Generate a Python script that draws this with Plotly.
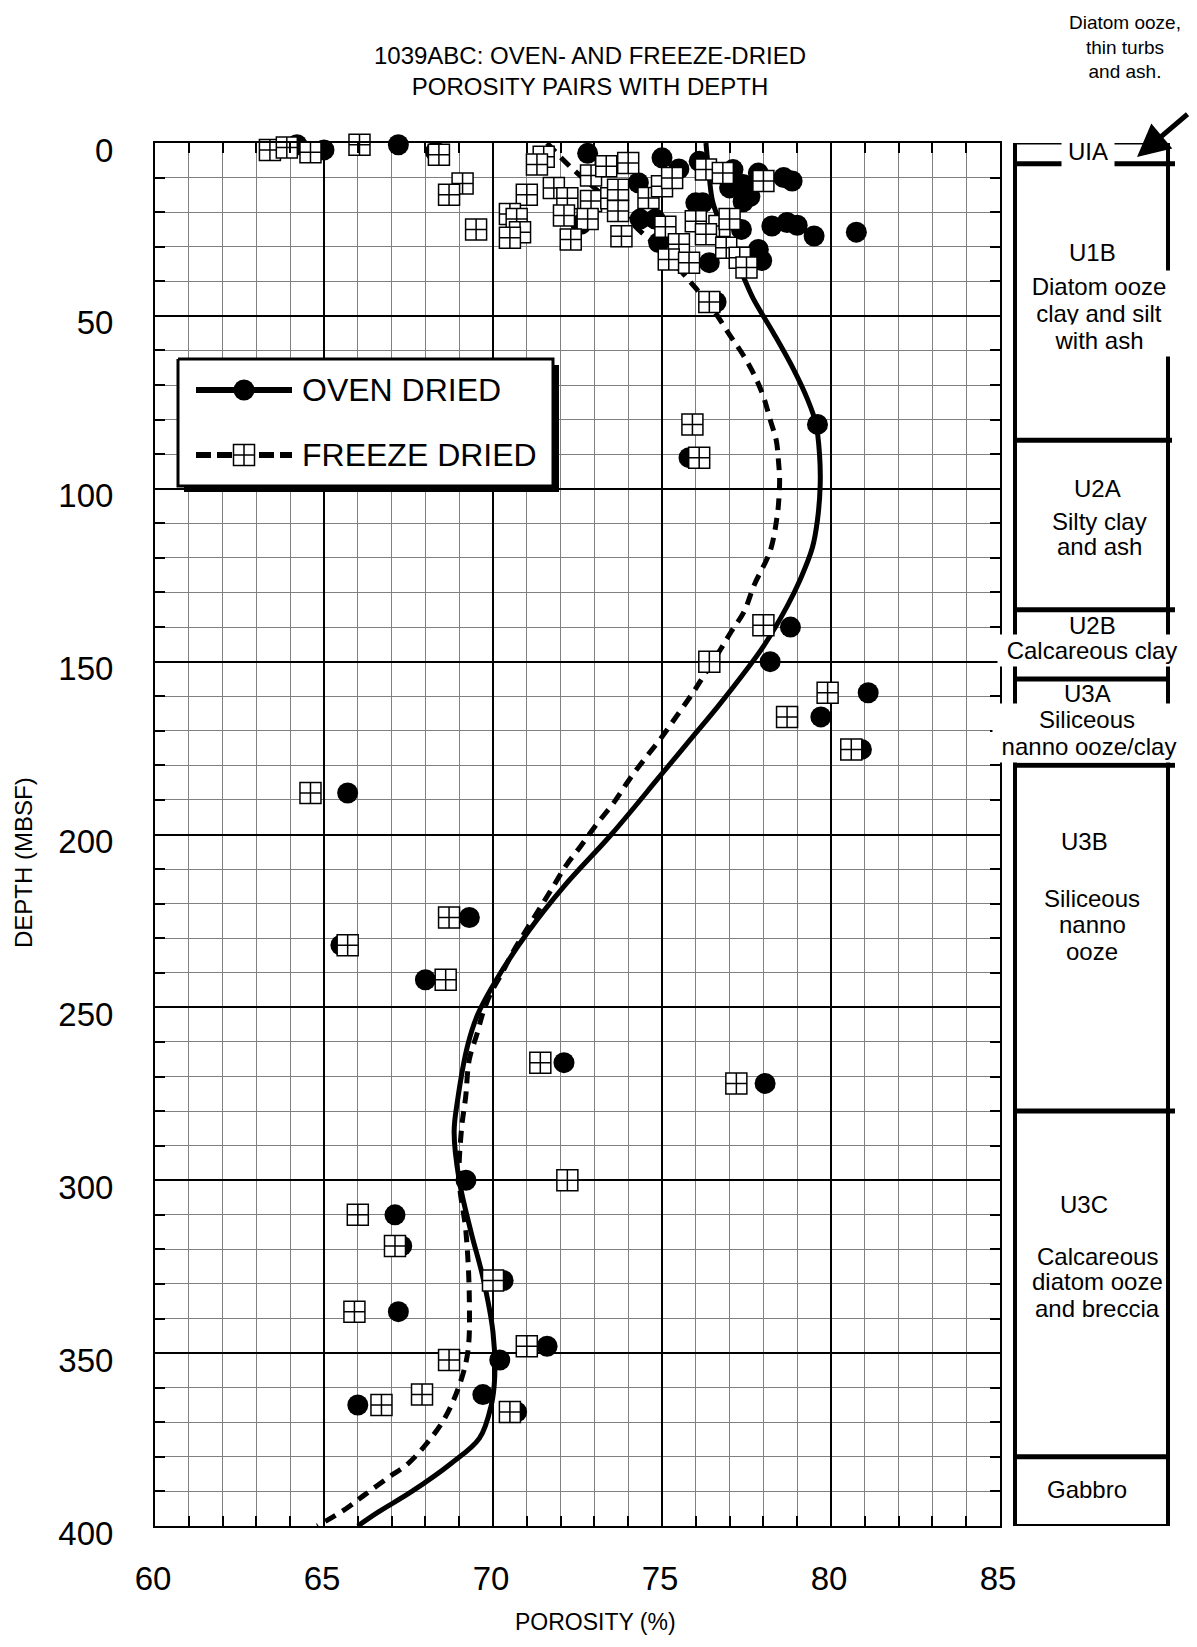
import plotly.graph_objects as go

# ---------------- data ----------------
oven_porosity = [64.2, 65.0, 67.2, 68.3, 72.8, 75.0, 75.5, 76.1, 77.1, 77.85, 78.6, 78.85,
                 77.0, 77.4, 77.6, 77.4, 76.0, 76.2, 74.3, 74.35, 74.8, 72.6, 77.35, 78.25,
                 78.7, 79.0, 79.5, 80.75, 74.9, 77.85, 77.95, 76.4, 76.6,
                 79.6, 75.8, 78.8, 78.2, 81.1, 79.7, 80.9, 65.7, 69.3, 65.5, 68.0, 72.1,
                 78.05, 69.2, 67.1, 67.3, 70.3, 67.2, 71.6, 70.2, 69.7, 66.0, 70.7]
oven_depth = [0.5, 2.0, 0.5, 2.5, 3.0, 4.3, 7.5, 5.3, 7.7, 8.7, 10.0, 11.0,
              13.0, 12.0, 15.5, 17.0, 17.3, 17.3, 11.5, 22.0, 22.0, 23.5, 25.0, 24.0,
              23.0, 23.8, 26.9, 25.8, 28.8, 30.8, 34.0, 34.6, 46.0,
              81.4, 91.0, 140.0, 150.0, 159.0, 166.0, 175.4, 188.0, 224.0, 232.0, 242.0, 266.0,
              272.0, 300.0, 310.0, 319.0, 329.0, 338.0, 348.0, 352.0, 362.0, 365.0, 367.0]

freeze_porosity = [63.4, 63.9, 64.6, 66.05, 68.4, 69.1, 68.7, 69.5, 71.5, 71.3, 71.0, 71.8,
                   70.5, 70.7, 70.8, 70.5, 72.9, 73.35, 74.0, 72.2, 72.9, 73.5, 73.7, 73.7,
                   72.8, 72.1, 72.3, 73.8, 74.6, 75.0, 75.3, 76.3, 76.8, 78.0, 75.1, 76.0,
                   76.7, 77.0, 75.5, 76.3, 76.9, 77.3, 77.5, 75.2, 75.8, 76.4,
                   75.9, 76.1, 78.0, 76.4, 79.9, 78.7, 80.6, 64.6, 68.7, 65.7, 68.6, 71.4,
                   77.2, 72.2, 66.0, 67.1, 70.0, 65.9, 71.0, 68.7, 67.9, 66.7, 70.5]
freeze_depth = [2.0, 1.3, 2.7, 0.5, 3.4, 11.7, 15.0, 25.0, 4.0, 6.2, 15.0, 13.0,
                20.5, 22.0, 25.8, 27.4, 9.4, 6.7, 5.8, 16.0, 16.8, 16.0, 13.5, 19.7,
                22.0, 21.0, 27.9, 27.0, 15.9, 12.5, 10.1, 7.7, 8.7, 11.0, 24.2, 22.6,
                24.0, 22.0, 29.3, 26.4, 30.3, 33.2, 36.0, 33.7, 34.6, 46.0,
                81.4, 91.0, 139.5, 150.0, 159.0, 166.0, 175.4, 188.0, 224.0, 232.0, 242.0, 266.0,
                272.0, 300.0, 310.0, 319.0, 329.0, 338.0, 348.0, 352.0, 362.0, 365.0, 367.0]

oven_curve_porosity = [76.3, 76.4, 76.5, 76.8, 77.1, 77.4, 77.7, 78.3, 78.9, 79.3, 79.55, 79.66,
                       79.68, 79.6, 79.45, 79.1, 78.7, 78.0, 77.45, 76.65, 75.8, 74.95, 73.5,
                       72.1, 71.05, 70.1, 69.55, 69.25, 68.95, 68.85, 69.0, 69.35, 69.7, 70.0,
                       70.05, 69.95, 69.6, 68.75, 67.6, 66.6, 66.0]
oven_curve_depth = [0, 10, 17, 25, 32, 38.5, 45, 55, 65.6, 74, 81, 90,
                    99, 109, 117, 126, 134, 145.6, 153, 163, 173, 183, 200,
                    215, 228, 242, 252, 261, 277, 286, 300, 315, 328, 344,
                    357, 365, 374.6, 382, 390, 396, 400]

freeze_curve_porosity = [71.6, 72.3, 73.0, 73.7, 74.3, 75.0, 75.6, 76.0, 76.5, 77.0, 77.4, 77.75,
                         78.0, 78.2, 78.38, 78.45, 78.48, 78.45, 78.4, 78.2, 77.73, 77.43, 77.05,
                         76.73, 76.23, 75.88, 75.43, 74.98, 74.5, 74.04, 73.58, 73.07, 72.6,
                         72.16, 71.76, 71.36, 70.96, 70.6, 70.27, 69.93, 69.7, 69.53, 69.3,
                         69.19, 69.07, 69.0, 69.2, 69.3, 69.25, 68.96, 68.56, 68.05, 67.48,
                         66.9, 66.2, 65.65, 64.8]
freeze_curve_depth = [0, 7, 13, 19, 25, 31, 37.5, 42, 48, 55.5, 61.3, 67.5,
                      73.3, 80, 86, 92.5, 97.3, 104, 108.4, 118, 127.8, 135.5, 141.3,
                      146.5, 154.2, 159.5, 165.8, 172, 178, 184, 190.7, 197, 203.3,
                      209, 215.4, 221.7, 228, 233.8, 240, 246, 251.7, 257.6, 265,
                      276, 285, 300, 315, 334.5, 350, 360.5, 369, 376, 382,
                      386, 391, 395, 400]

x_tick_values = [60, 65, 70, 75, 80, 85]
y_tick_values = [0, 50, 100, 150, 200, 250, 300, 350, 400]

unit_boundary_depths = [0, 6, 86, 135, 155, 180, 280, 380, 400]
# lithology text, one entry per printed line
litho_lines = ["UIA", "U1B", "Diatom ooze", "clay and silt", "with ash",
               "U2A", "Silty clay", "and ash", "U2B", "Calcareous clay",
               "U3A", "Siliceous", "nanno ooze/clay", "U3B", "Siliceous", "nanno", "ooze",
               "U3C", "Calcareous", "diatom ooze", "and breccia", "Gabbro"]
litho_line_depths = [2.6, 31.7, 41.5, 49.4, 57.0,
                     99.8, 109.5, 116.8, 139.6, 146.9,
                     159.3, 166.6, 174.5, 202.1, 218.5, 226.1, 233.7,
                     306.9, 322.1, 329.4, 337.0, 389.3]

# ---------------- geometry helpers (screen px -> paper) ----------------
OFF = 8                      # page body margin
W, H = 1197 - 2 * OFF, 1647 - 2 * OFF
ML, MT = 147, 135
MB = H - (MT + 1383)
MR = 10
PW, PH = W - ML - MR, H - MT - MB
FONT = "Liberation Sans, Arial, sans-serif"


def fx(sx):
    return (sx - OFF - ML) / PW


def fy(sy):
    return (H - MB - (sy - OFF)) / PH


fig = go.Figure()

# curves
fig.add_trace(go.Scatter(x=oven_curve_porosity, y=oven_curve_depth, mode="lines",
                         line=dict(color="black", width=5, shape="spline", smoothing=1.0),
                         name="OVEN DRIED", showlegend=False, hoverinfo="skip", cliponaxis=False))
fig.add_trace(go.Scatter(x=freeze_curve_porosity, y=freeze_curve_depth, mode="lines",
                         line=dict(color="black", width=5, dash="12px,8px", shape="spline", smoothing=1.0),
                         name="FREEZE DRIED", showlegend=False, hoverinfo="skip", cliponaxis=False))
# points
fig.add_trace(go.Scatter(x=oven_porosity, y=oven_depth, mode="markers",
                         marker=dict(symbol="circle", size=21, color="black"),
                         name="OVEN DRIED", showlegend=False, cliponaxis=False))
fig.add_trace(go.Scatter(x=freeze_porosity, y=freeze_depth, mode="markers",
                         marker=dict(symbol="square-cross", size=21, color="white",
                                     line=dict(color="black", width=1.5)),
                         name="FREEZE DRIED", showlegend=False, cliponaxis=False))

# ---------------- custom legend (screen-pixel overlay axes) ----------------
lx0, ly0, lx1, ly1 = 178, 359, 553, 486
sh = 6
fig.add_trace(go.Scatter(x=[lx0 + sh, lx1 + sh, lx1 + sh, lx0 + sh, lx0 + sh],
                         y=[ly0 + sh, ly0 + sh, ly1 + sh, ly1 + sh, ly0 + sh],
                         fill="toself", fillcolor="black", mode="lines", line=dict(width=0, color="black"),
                         xaxis="x3", yaxis="y3", showlegend=False, hoverinfo="skip"))
fig.add_trace(go.Scatter(x=[lx0, lx1, lx1, lx0, lx0], y=[ly0, ly0, ly1, ly1, ly0],
                         fill="toself", fillcolor="white", mode="lines", line=dict(width=3, color="black"),
                         xaxis="x3", yaxis="y3", showlegend=False, hoverinfo="skip"))
fig.add_trace(go.Scatter(x=[196, 292], y=[390, 390], mode="lines", line=dict(color="black", width=6),
                         xaxis="x3", yaxis="y3", showlegend=False, hoverinfo="skip"))
fig.add_trace(go.Scatter(x=[196, 292], y=[455, 455], mode="lines",
                         line=dict(color="black", width=6, dash="15px,6px"),
                         xaxis="x3", yaxis="y3", showlegend=False, hoverinfo="skip"))
fig.add_trace(go.Scatter(x=[244], y=[390], mode="markers", marker=dict(symbol="circle", size=21, color="black"),
                         xaxis="x3", yaxis="y3", showlegend=False, hoverinfo="skip"))
fig.add_trace(go.Scatter(x=[244], y=[455], mode="markers",
                         marker=dict(symbol="square-cross", size=21, color="white", line=dict(color="black", width=1.5)),
                         xaxis="x3", yaxis="y3", showlegend=False, hoverinfo="skip"))

annotations = [
    dict(text="OVEN DRIED", x=fx(300), y=fy(390), xref="paper", yref="paper", xanchor="left",
         yanchor="middle", showarrow=False, font=dict(size=32, family=FONT, color="black")),
    dict(text="FREEZE DRIED", x=fx(300), y=fy(455), xref="paper", yref="paper", xanchor="left",
         yanchor="middle", showarrow=False, font=dict(size=32, family=FONT, color="black")),
    # axis titles
    dict(text="DEPTH (MBSF)", x=fx(23), y=fy(863), xref="paper", yref="paper", textangle=-90,
         xanchor="center", yanchor="middle", showarrow=False, font=dict(size=24, family=FONT, color="black")),
    dict(text="POROSITY (%)", x=fx(595), y=fy(1622), xref="paper", yref="paper",
         xanchor="center", yanchor="middle", showarrow=False, font=dict(size=23, family=FONT, color="black")),
]

# ---------------- lithology column ----------------
cx0, cx1 = 1015, 1168
right_ext = [0, 7, 4, 7, 0, 7, 7, 0, 0]
line_w = [3, 5, 5, 5, 5, 5, 5, 5, 4]
shapes = []
for d, ext, w in zip(unit_boundary_depths, right_ext, line_w):
    shapes.append(dict(type="line", xref="paper", yref="y", x0=fx(cx0), x1=fx(cx1 + ext), y0=d, y1=d,
                       line=dict(color="black", width=w)))
for cx in (cx0, cx1):
    shapes.append(dict(type="line", xref="paper", yref="y", x0=fx(cx), x1=fx(cx),
                       y0=unit_boundary_depths[0], y1=unit_boundary_depths[-1],
                       line=dict(color="black", width=4)))

litho_x = [1088, 1092, 1099, 1099, 1099, 1097, 1099, 1099, 1092, 1092,
           1087, 1087, 1089, 1084, 1092, 1092, 1092, 1084, 1097, 1097, 1097, 1087]
# white-backed lines that interrupt the column frame (width of the white box, 0 = none)
litho_mask = [48, 0, 150, 150, 150, 0, 0, 0, 0, 184,
              0, 184, 184, 0, 0, 0, 0, 0, 0, 0, 0, 0]
for t, d, px, m in zip(litho_lines, litho_line_depths, litho_x, litho_mask):
    a = dict(text=t, x=fx(px), y=d, xref="paper", yref="y", showarrow=False,
             xanchor="center", yanchor="middle", font=dict(size=24, family=FONT, color="black"))
    if m:
        a.update(width=m, bgcolor="white", borderpad=2)
    annotations.append(a)

annotations.append(dict(text="Diatom ooze,<br>thin turbs<br>and ash.", x=fx(1125), y=fy(47),
                        xref="paper", yref="paper", showarrow=False, xanchor="center", yanchor="middle",
                        font=dict(size=19, family=FONT, color="black")))
annotations.append(dict(text="", x=fx(1137), y=fy(157), xref="paper", yref="paper", showarrow=True,
                        ax=55, ay=-44, arrowhead=2, arrowsize=1.3, arrowwidth=5, arrowcolor="black"))

fig.update_layout(
    width=W, height=H,
    margin=dict(l=ML, r=MR, t=MT, b=MB, autoexpand=False),
    paper_bgcolor="white", plot_bgcolor="rgba(0,0,0,0)",
    font=dict(family=FONT, color="black"),
    showlegend=False,
    title=dict(text="1039ABC: OVEN- AND FREEZE-DRIED<br>POROSITY PAIRS WITH DEPTH",
               x=fx(590), xref="paper", xanchor="center", y=1 - (64 - OFF) / H, yref="container",
               yanchor="middle", font=dict(size=24, family=FONT, color="black"), automargin=False),
    xaxis=dict(domain=[0, 845 / PW], range=[60, 85], tickvals=x_tick_values, automargin=False,
               showgrid=True, gridcolor="black", gridwidth=1.5,
               showline=True, linecolor="black", linewidth=2, mirror="ticks",
               ticks="inside", ticklen=10, tickwidth=1.5, tickcolor="black",
               minor=dict(dtick=1, showgrid=True, gridcolor="#808080", gridwidth=1.3,
                          ticks="inside", ticklen=10, tickwidth=1.5, tickcolor="black"),
               tickfont=dict(size=33, family=FONT, color="black"), ticklabelstandoff=22,
               ticklabelshift=-2,
               zeroline=False, fixedrange=True),
    yaxis=dict(domain=[0, 1], range=[400, 0], tickvals=y_tick_values, automargin=False,
               showgrid=True, gridcolor="black", gridwidth=1.5,
               showline=True, linecolor="black", linewidth=2, mirror="ticks",
               ticks="inside", ticklen=10, tickwidth=1.5, tickcolor="black",
               minor=dict(dtick=10, showgrid=True, gridcolor="#808080", gridwidth=1.3,
                          ticks="inside", ticklen=10, tickwidth=1.5, tickcolor="black"),
               tickfont=dict(size=33, family=FONT, color="black"), ticklabelstandoff=33,
               ticklabelshift=-7,
               zeroline=False, fixedrange=True),
    xaxis3=dict(domain=[0, 1], range=[ML + OFF, W - MR + OFF], visible=False, anchor="y3",
                fixedrange=True, automargin=False),
    yaxis3=dict(domain=[0, 1], range=[H - MB + OFF, MT + OFF], visible=False, anchor="x3",
                fixedrange=True, automargin=False),
    shapes=shapes,
    annotations=annotations,
)

fig.write_html("out.html")
